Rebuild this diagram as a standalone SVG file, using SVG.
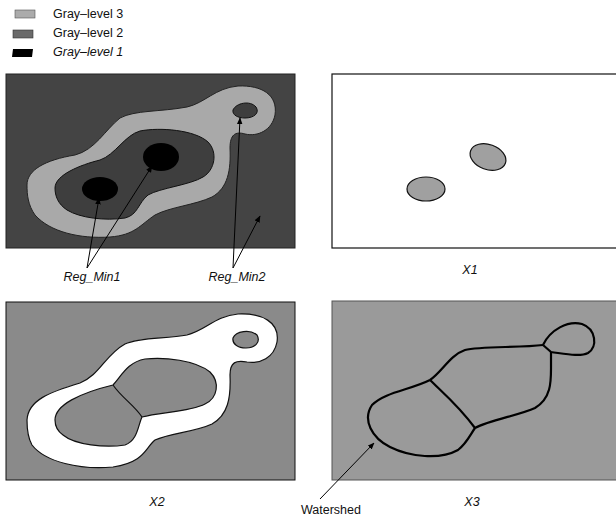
<svg xmlns="http://www.w3.org/2000/svg" width="616" height="516" viewBox="0 0 616 516">
<style>
.lbl{font-family:"Liberation Sans",Arial,sans-serif;font-size:12.5px;fill:#111}
.it{font-style:italic}
.edge{stroke:#111;stroke-width:1.2;fill:none}
.ws{stroke:#000;stroke-width:2.2;fill:none;stroke-linejoin:round}
</style>
<defs>
<marker id="ah" viewBox="0 0 10 10" refX="9" refY="5" markerWidth="7" markerHeight="7" orient="auto-start-reverse">
<path d="M0,1 L10,5 L0,9 z" fill="#000"/>
</marker>
</defs>
<rect width="616" height="516" fill="#fff"/>

<g id="legend">
<rect x="15" y="10" width="20" height="8" fill="#ababab" stroke="#555" stroke-width="0.6"/>
<rect x="13" y="30" width="20" height="8" fill="#6a6a6a" stroke="#333" stroke-width="0.6"/>
<path d="M13,49 L33,49 L32,57 L12,57 z" fill="#000"/>
<text class="lbl" x="53" y="18" font-size="13.5">Gray–level 3</text>
<text class="lbl" x="53" y="37" font-size="13.5">Gray–level 2</text>
<text class="lbl it" x="53" y="56" font-size="13.5">Gray–level 1</text>
</g>

<g id="panel-original">
<rect x="6" y="74" width="289" height="174" fill="#444" stroke="#222" stroke-width="1"/>
<path d="M27,185 C27,170 45,160 75,155 C95,150 105,130 120,118 C135,110 160,112 187,107 C205,103 215,88 238,86 C262,85 278,95 275,115 C272,130 258,137 245,134 C235,131 230,135 230,148 C231,170 228,188 212,197 C195,205 170,207 155,215 C140,225 135,235 110,237 C80,239 50,232 35,215 C28,205 27,195 27,185 Z" fill="#a9a9a9" stroke="#222" stroke-width="1"/>
<path d="M55,188 C55,175 80,165 100,160 C115,155 125,135 140,131 C160,127 195,130 208,142 C218,152 215,170 203,177 C190,185 160,188 148,195 C138,203 138,215 125,218 C105,221 80,218 67,210 C58,204 55,196 55,188 Z" fill="#3e3e3e" stroke="#111" stroke-width="1"/>
<path d="M233,110 C236,103 250,100 256,107 C260,113 254,118 245,118 C238,118 232,115 233,110 Z" fill="#3e3e3e" stroke="#111" stroke-width="1"/>
<ellipse cx="100" cy="189" rx="18" ry="12" fill="#000"/>
<ellipse cx="161" cy="157" rx="18" ry="14" fill="#000"/>
</g>

<g id="panel-x1">
<rect x="332" y="74" width="300" height="174" fill="#fff" stroke="#111" stroke-width="1.2"/>
<ellipse cx="426" cy="189" rx="19" ry="12" fill="#a0a0a0" stroke="#111" stroke-width="1.2"/>
<ellipse cx="488" cy="157" rx="18.5" ry="12.5" transform="rotate(20 488 157)" fill="#a0a0a0" stroke="#111" stroke-width="1.2"/>
</g>

<g id="panel-x2">
<rect x="6" y="302" width="289" height="178" fill="#8a8a8a" stroke="#111" stroke-width="1"/>
<path d="M27,420 C28,400 50,392 80,383 C100,375 105,355 125,344 C140,337 165,339 187,335 C205,331 215,316 238,314 C262,313 280,322 277,342 C274,358 260,364 247,362 C236,360 230,362 230,375 C231,398 228,415 212,424 C195,432 170,433 155,440 C145,448 145,462 113,467 C80,470 45,462 32,445 C28,438 27,430 27,420 Z" fill="#fff" stroke="#111" stroke-width="1.2"/>
<path d="M55,420 C55,405 80,393 113,385 C122,375 128,362 145,359 C165,357 195,360 210,372 C220,382 218,398 205,404 C190,412 160,412 142,417 C138,425 138,440 125,445 C105,448 75,445 63,435 C56,430 55,425 55,420 Z" fill="#8a8a8a" stroke="#111" stroke-width="1.2"/>
<path d="M233,338 C236,331 250,329 257,335 C261,342 255,348 246,348 C238,348 232,344 233,338 Z" fill="#8a8a8a" stroke="#111" stroke-width="1.2"/>
<path d="M113,385 C122,398 134,405 142,417" class="edge" stroke-width="1.6"/>
</g>

<g id="panel-x3">
<rect x="332" y="301" width="300" height="179" fill="#9a9a9a" stroke="#555" stroke-width="1"/>
<path class="ws" d="M543,345 C520,348 480,346 465,350 C450,355 442,372 430,380 C410,390 385,392 372,405 C362,420 372,438 390,447 C410,457 440,460 458,450 C467,443 470,435 475,428 C490,420 520,415 535,408 C552,398 551,380 551,365 L551,352"/>
<path class="ws" d="M543,345 C550,330 568,320 582,324 C596,329 598,347 588,353 C580,357 566,354 551,352 L543,345"/>
<path class="ws" d="M430,380 C442,392 458,405 475,428"/>
</g>

<g id="connectors">
<line x1="87" y1="268" x2="99" y2="198" stroke="#000" stroke-width="1" marker-end="url(#ah)"/>
<line x1="87" y1="268" x2="152" y2="166" stroke="#000" stroke-width="1" marker-end="url(#ah)"/>
<line x1="233" y1="268" x2="240" y2="118" stroke="#000" stroke-width="1" marker-end="url(#ah)"/>
<line x1="233" y1="268" x2="260" y2="216" stroke="#000" stroke-width="1" marker-end="url(#ah)"/>
<line x1="320" y1="499" x2="374" y2="443" stroke="#000" stroke-width="1" marker-end="url(#ah)"/>
</g>

<g id="labels">
<text class="lbl it" x="92" y="281" text-anchor="middle">Reg_Min1</text>
<text class="lbl it" x="237" y="281" text-anchor="middle">Reg_Min2</text>
<text class="lbl it" x="470" y="274" text-anchor="middle">X1</text>
<text class="lbl it" x="157" y="506" text-anchor="middle">X2</text>
<text class="lbl it" x="472" y="506" text-anchor="middle">X3</text>
<text class="lbl" x="331" y="514" text-anchor="middle">Watershed</text>
</g>
</svg>
